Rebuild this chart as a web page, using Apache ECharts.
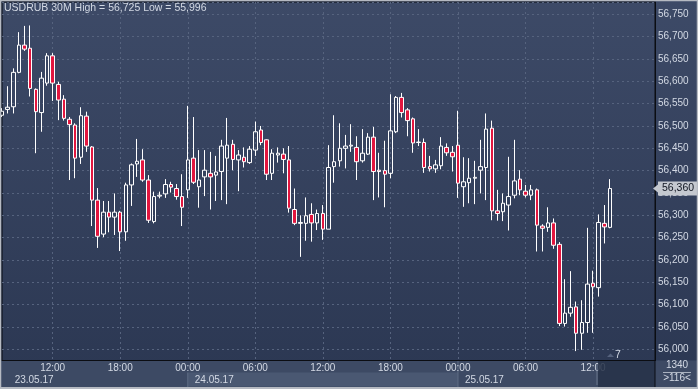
<!DOCTYPE html>
<html><head><meta charset="utf-8">
<script src="https://cdn.jsdelivr.net/npm/echarts@6/dist/echarts.min.js"></script>
<style>html,body{margin:0;padding:0;background:#b6bac2;}#c{width:698px;height:389px;}</style>
</head><body><div id="c"></div>
<script>
// ---- data (USDRUB 30M candles, 23.05.17 07:30 onwards) ----
const opens  = [56.524,56.537,56.543,56.620,56.681,56.674,56.582,56.530,56.596,56.657,56.593,56.560,56.515,56.502,56.430,56.522,56.453,56.334,56.258,56.307,
                56.296,56.307,56.263,56.368,56.415,56.424,56.379,56.286,56.343,56.348,56.369,56.360,56.342,56.357,56.428,56.364,56.386,56.394,56.390,56.398,
                56.428,56.459,56.424,56.430,56.418,56.446,56.491,56.469,56.394,56.435,56.437,56.424,56.313,56.282,56.282,56.302,56.283,56.304,56.269,56.409,
                56.422,56.450,56.455,56.452,56.422,56.437,56.475,56.401,56.400,56.394,56.487,56.564,56.536,56.516,56.463,56.463,56.409,56.404,56.411,56.452,
                56.441,56.457,56.364,56.373,56.383,56.401,56.407,56.495,56.310,56.308,56.323,56.345,56.381,56.354,56.345,56.357,56.276,56.273,56.283,56.235,
                56.058,56.081,56.095,56.036,56.060,56.148,56.138,56.282,56.273];
const closes = [56.533,56.542,56.620,56.681,56.672,56.584,56.532,56.607,56.657,56.596,56.558,56.517,56.503,56.428,56.523,56.455,56.334,56.253,56.307,56.296,
                56.307,56.263,56.368,56.413,56.421,56.379,56.289,56.342,56.345,56.369,56.363,56.342,56.318,56.424,56.374,56.379,56.401,56.386,56.397,56.455,
                56.457,56.425,56.435,56.420,56.448,56.487,56.463,56.392,56.439,56.439,56.425,56.316,56.282,56.284,56.299,56.283,56.304,56.269,56.407,56.420,
                56.450,56.455,56.457,56.420,56.439,56.475,56.398,56.398,56.392,56.489,56.564,56.530,56.512,56.462,56.464,56.407,56.404,56.413,56.455,56.440,
                56.431,56.372,56.375,56.383,56.385,56.409,56.493,56.310,56.304,56.327,56.342,56.377,56.357,56.345,56.357,56.278,56.271,56.283,56.233,56.058,
                56.081,56.094,56.036,56.060,56.146,56.140,56.284,56.274,56.360];
const lows   = [56.520,56.528,56.528,56.618,56.668,56.566,56.439,56.487,56.590,56.556,56.513,56.512,56.379,56.383,56.415,56.442,56.276,56.227,56.251,56.262,
                56.256,56.220,56.243,56.321,56.386,56.375,56.283,56.282,56.338,56.339,56.351,56.335,56.276,56.339,56.370,56.317,56.343,56.313,56.332,56.334,
                56.325,56.401,56.354,56.407,56.415,56.433,56.457,56.379,56.379,56.418,56.394,56.306,56.278,56.207,56.243,56.241,56.267,56.245,56.269,56.373,
                56.409,56.405,56.442,56.379,56.418,56.435,56.334,56.340,56.318,56.383,56.484,56.519,56.477,56.440,56.455,56.395,56.398,56.395,56.403,56.433,
                56.398,56.339,56.319,56.327,56.325,56.349,56.334,56.289,56.288,56.287,56.266,56.338,56.345,56.340,56.334,56.219,56.219,56.263,56.225,56.052,
                56.051,56.073,55.996,55.999,56.037,56.037,56.118,56.237,56.271];
const highs  = [56.540,56.589,56.629,56.710,56.724,56.725,56.584,56.621,56.663,56.663,56.599,56.569,56.520,56.506,56.542,56.532,56.455,56.361,56.332,56.332,
                56.349,56.310,56.373,56.416,56.471,56.448,56.390,56.353,56.353,56.381,56.375,56.370,56.392,56.545,56.520,56.446,56.446,56.442,56.433,56.469,
                56.518,56.469,56.446,56.452,56.455,56.510,56.500,56.470,56.448,56.452,56.450,56.455,56.360,56.300,56.340,56.327,56.313,56.323,56.457,56.524,
                56.506,56.480,56.504,56.477,56.493,56.484,56.498,56.440,56.467,56.571,56.567,56.574,56.540,56.519,56.493,56.472,56.433,56.424,56.475,56.461,
                56.455,56.534,56.430,56.428,56.422,56.469,56.528,56.512,56.357,56.349,56.431,56.469,56.401,56.368,56.368,56.360,56.280,56.318,56.293,56.240,
                56.157,56.175,56.107,56.110,56.272,56.176,56.302,56.323,56.381];
const symbolName = 'USDRUB';
const timeframe = '30M';
const totalSlots = 117;                      // visible bar slots (incl. empty right margin)
const majorTimes = ['00:00','06:00','12:00','18:00'];
const dateTicks = [{index:1,label:'23.05.17'},{index:33,label:'24.05.17'},{index:81,label:'25.05.17'}];

// categories: 30-minute slots starting 23.05 07:30
const categories = [];
(function(){
  let day = 23, mins = 7*60+30;
  for (let i = 0; i < totalSlots; i++) {
    const hh = String(Math.floor(mins/60)).padStart(2,'0'), mm = String(mins%60).padStart(2,'0');
    categories.push(day + '.05 ' + hh + ':' + mm);
    mins += 30; if (mins >= 1440) { mins -= 1440; day++; }
  }
})();

const candles = opens.map((o,i)=>[o, closes[i], lows[i], highs[i]]);
const fmt = v => v.toFixed(3).replace('.', ',');
const hi = Math.max.apply(null, highs), lo = Math.min.apply(null, lows);
const lastClose = closes[closes.length-1];
const FONT = '"Liberation Sans", Arial, sans-serif';
const TXT = '#d3d9e4';
const isMajor = v => majorTimes.indexOf(v.slice(-5)) >= 0;
const dateAt = i => { const d = dateTicks.find(t=>t.index===i); return d ? d.label : null; };

const chart = echarts.init(document.getElementById('c'), null, {renderer:'canvas'});
const option = {
  animation: false,
  backgroundColor: {type:'linear', x:0, y:0, x2:0, y2:1, colorStops:[{offset:0,color:'#3d4a67'},{offset:1,color:'#2b3752'}]},
  title: {text: symbolName + ' ' + timeframe + ' High = ' + fmt(hi) + ' Low = ' + fmt(lo), left: 4, top: 3, padding: 0,
          textStyle:{color: TXT, fontSize: 10.5, fontWeight:'normal', fontFamily: FONT}},
  grid: {left: 2, right: 43, top: 2, bottom: 28.5, show: true, borderColor:'#0b0d12', borderWidth:1, backgroundColor:'transparent'},
  xAxis: [{
    type:'category', data: categories, boundaryGap:false,
    axisLine:{show:true, lineStyle:{color:'#0b0d12', width:1}}, axisTick:{show:false},
    axisLabel:{interval:(i,v)=>isMajor(v), formatter:v=>v.slice(-5), margin:3, color:TXT, fontSize:10, fontFamily:FONT},
    splitLine:{show:true, interval:(i,v)=>isMajor(v), lineStyle:{color:'#56637e', type:[2,3], width:1}}
  },{
    type:'category', data: categories, boundaryGap:false, position:'bottom', offset:12,
    axisLine:{show:false}, axisTick:{show:false}, splitLine:{show:false},
    axisLabel:{interval:(i)=>dateAt(i)!==null, formatter:(v,i)=>dateAt(i)||'', align:'left', margin:3, padding:[0,0,0,7], color:TXT, fontSize:10, fontFamily:FONT}
  }],
  yAxis: {
    type:'value', position:'right', min:55.975, max:56.7775, splitNumber:16, minInterval:0.05, maxInterval:0.05,
    axisLine:{show:true, lineStyle:{color:'#0b0d12'}}, axisTick:{show:false},
    axisLabel:{showMinLabel:false, showMaxLabel:false, margin:3, color:TXT, fontSize:10, fontFamily:FONT, formatter:fmt},
    splitLine:{show:true, lineStyle:{color:'#56637e', type:[2,3], width:1}}
  },
  series: [{
    type:'candlestick', data: candles, barWidth: 4,
    itemStyle:{color:'rgba(0,0,0,0)', color0:'#e2163f', borderColor:'#ffffff', borderColor0:'#ffffff', borderColorDoji:'#ffffff', borderWidth:1},
    markLine:{silent:true, symbol:'none', animation:false,
      data:[{yAxis:lastClose}],
      lineStyle:{color:'rgba(0,0,0,0)', width:0},
      label:{position:'end', distance:3, formatter:()=>fmt(lastClose), backgroundColor:'#c4c8cf', color:'#101521', padding:[2,4,1,4], fontSize:10.5, fontFamily:FONT}
    }
  }]
};
chart.setOption(option);

// decorations positioned through the axis scale
const px = i => chart.convertToPixel({xAxisIndex:0}, i);
const yLast = chart.convertToPixel({yAxisIndex:0}, lastClose);
const xDay24 = px(33), xDay25 = px(81);
const W = 698, H = 389, plotBottom = 360.5, plotRight = 655;
chart.setOption({graphic:[
  {type:'rect', z:-10, shape:{x:0, y:plotBottom, width:W, height:H-plotBottom}, style:{fill:'#3d4a64'}},
  {type:'rect', z:-9, shape:{x:xDay24, y:372.5, width:xDay25-xDay24, height:14}, style:{fill:'#4a5872'}},
  {type:'line', z:-8, shape:{x1:xDay24, y1:372.5, x2:xDay24, y2:387}, style:{stroke:'#5f6c85', lineWidth:1}},
  {type:'line', z:-8, shape:{x1:xDay25, y1:361, x2:xDay25, y2:387}, style:{stroke:'#5f6c85', lineWidth:1}},
  {type:'rect', z:5, shape:{x:598, y:361, width:plotRight-598, height:26}, style:{fill:'rgba(38,49,72,0.85)'}},
  {type:'line', z:5, shape:{x1:597, y1:364, x2:597, y2:385}, style:{stroke:'#6a768c', lineWidth:1}},
  {type:'line', z:5, shape:{x1:plotRight, y1:360, x2:plotRight, y2:389}, style:{stroke:'#0b0d12', lineWidth:1}},
  {type:'polygon', z:5, shape:{points:[[607,357],[610.5,353.5],[614,357]]}, style:{fill:'#56637e'}},
  {type:'text', z:5, x:615, y:355, style:{text:'7', fill:TXT, font:'10.5px '+FONT, align:'left', verticalAlign:'middle'}},
  {type:'text', z:5, x:677, y:365, style:{text:'1340', fill:TXT, font:'10px '+FONT, align:'center', verticalAlign:'middle'}},
  {type:'line', z:5, shape:{x1:663, y1:372.5, x2:691, y2:372.5}, style:{stroke:'#aab2c0', lineWidth:1}},
  {type:'text', z:5, x:677, y:378.5, style:{text:'>116<', fill:TXT, font:'10px '+FONT, align:'center', verticalAlign:'middle'}},
  {type:'polygon', z:30, shape:{points:[[653,yLast],[658,yLast-4],[658,yLast+4]]}, style:{fill:'#c4c8cf'}},
  {type:'rect', z:20, shape:{x:0.5, y:0.5, width:W-1, height:H-1}, style:{fill:'none', stroke:'#b6bac2', lineWidth:1.5}},
  {type:'rect', z:20, shape:{x:0, y:387, width:W, height:2}, style:{fill:'#b6bac2'}}
]});
</script></body></html>
